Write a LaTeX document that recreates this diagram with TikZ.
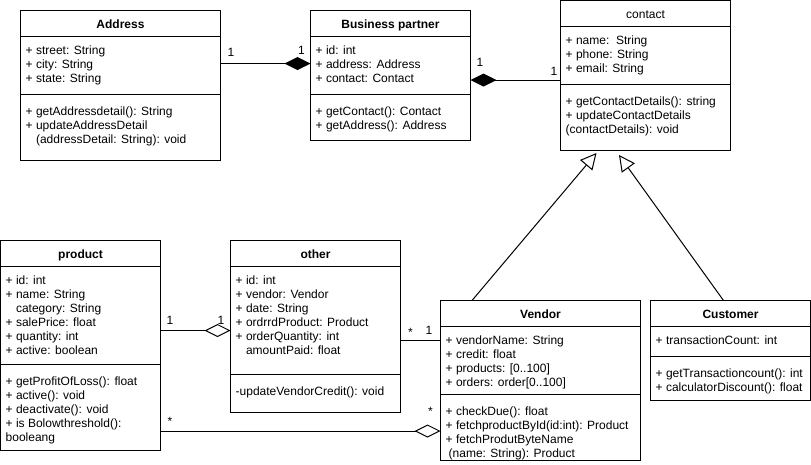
\documentclass[tikz,border=0pt]{standalone}
\usepackage{fontspec}
\setmainfont{Liberation Sans}
\usetikzlibrary{calc,arrows.meta}
\begin{document}
\begin{tikzpicture}[x=1pt,y=-1pt,
  box/.style={draw, line width=1pt, anchor=north west, inner sep=0pt, outer sep=0pt},
  ttl/.style={font=\fontsize{12}{14}\selectfont\bfseries, anchor=base, inner sep=0pt},
  ttlreg/.style={font=\fontsize{12}{14}\selectfont, anchor=base, inner sep=0pt},
  txt/.style={font=\fontsize{12}{14}\selectfont, align=left, anchor=north west, inner sep=0pt},
  lbl/.style={font=\fontsize{12}{14}\selectfont, anchor=base, inner sep=0pt},
  plain/.style={draw, line width=1pt},
  comp/.style={draw, line width=1pt, -{Diamond[length=26pt,width=13pt]}},
  agg/.style={draw, line width=1pt, -{Diamond[open,length=26pt,width=13pt,fill=white]}},
  gen/.style={draw, line width=1pt, -{Triangle[open,length=16pt,width=16pt,fill=white]}}
]
\useasboundingbox (0,0) rectangle (811,464);

% Address
\node[box, minimum width=200pt, minimum height=150pt] (addr) at (20.5,10.5) {};
\node[ttl] (addrT) at ($(addr.north)+(0,17.5)$) {Address};
\draw[plain] ($(addr.north west)+(0,26)$) -- ($(addr.north east)+(0,26)$);
\draw[plain] ($(addr.north west)+(0,84)$) -- ($(addr.north east)+(0,84)$);
\node[txt] (addrA) at ($(addr.north west)+(5,34.2)$) {\strut+ street: String\\+ city: String\\+ state: String};
\node[txt] (addrM) at ($(addr.north west)+(5,95.2)$) {\strut+ getAddressdetail(): String\\+ updateAddressDetail\\\phantom{+ }(addressDetail: String): void};

% Business partner
\node[box, minimum width=160pt, minimum height=130pt] (bp) at (310.5,10.5) {};
\node[ttl] (bpT) at ($(bp.north)+(0,17.5)$) {Business partner};
\draw[plain] ($(bp.north west)+(0,26)$) -- ($(bp.north east)+(0,26)$);
\draw[plain] ($(bp.north west)+(0,84)$) -- ($(bp.north east)+(0,84)$);
\node[txt] (bpA) at ($(bp.north west)+(5,34.2)$) {\strut+ id: int\\+ address: Address\\+ contact: Contact};
\node[txt] (bpM) at ($(bp.north west)+(5,95.2)$) {\strut+ getContact(): Contact\\+ getAddress(): Address};

% contact
\node[box, minimum width=170pt, minimum height=150pt] (contact) at (560.5,0.5) {};
\node[ttlreg] (contactT) at ($(contact.north)+(0,17.5)$) {contact};
\draw[plain] ($(contact.north west)+(0,26)$) -- ($(contact.north east)+(0,26)$);
\draw[plain] ($(contact.north west)+(0,84)$) -- ($(contact.north east)+(0,84)$);
\node[txt] (contactA) at ($(contact.north west)+(5,34.2)$) {\strut+ name:\ \ String\\+ phone: String\\+ email: String};
\node[txt] (contactM) at ($(contact.north west)+(5,95.2)$) {\strut+ getContactDetails(): string\\+ updateContactDetails\\(contactDetails): void};

% product
\node[box, minimum width=160pt, minimum height=210pt] (product) at (0.5,240.5) {};
\node[ttl] (productT) at ($(product.north)+(0,17.5)$) {product};
\draw[plain] ($(product.north west)+(0,26)$) -- ($(product.north east)+(0,26)$);
\draw[plain] ($(product.north west)+(0,124)$) -- ($(product.north east)+(0,124)$);
\node[txt] (productA) at ($(product.north west)+(5,34.2)$) {\strut+ id: int\\+ name: String\\\phantom{+ }category: String\\+ salePrice: float\\+ quantity: int\\+ active: boolean};
\node[txt] (productM) at ($(product.north west)+(5,135.2)$) {\strut+ getProfitOfLoss(): float\\+ active(): void\\+ deactivate(): void\\+ is Bolowthreshold():\\booleang};

% other
\node[box, minimum width=170pt, minimum height=172pt] (other) at (230.5,240.5) {};
\node[ttl] (otherT) at ($(other.north)+(0,17.5)$) {other};
\draw[plain] ($(other.north west)+(0,26)$) -- ($(other.north east)+(0,26)$);
\draw[plain] ($(other.north west)+(0,134)$) -- ($(other.north east)+(0,134)$);
\node[txt] (otherA) at ($(other.north west)+(5,34.2)$) {\strut+ id: int\\+ vendor: Vendor\\+ date: String\\+ ordrrdProduct: Product\\+ orderQuantity: int\\\phantom{+ }amountPaid: float};
\node[txt] (otherM) at ($(other.north west)+(5,145.2)$) {\strut-updateVendorCredit(): void};

% Vendor
\node[box, minimum width=200pt, minimum height=160pt] (vendor) at (440.5,300.5) {};
\node[ttl] (vendorT) at ($(vendor.north)+(0,17.5)$) {Vendor};
\draw[plain] ($(vendor.north west)+(0,26)$) -- ($(vendor.north east)+(0,26)$);
\draw[plain] ($(vendor.north west)+(0,94)$) -- ($(vendor.north east)+(0,94)$);
\node[txt] (vendorA) at ($(vendor.north west)+(5,34.2)$) {\strut+ vendorName: String\\+ credit: float\\+ products: [0..100]\\+ orders: order[0..100]};
\node[txt] (vendorM) at ($(vendor.north west)+(5,105.2)$) {\strut+ checkDue(): float\\+ fetchproductById(id:int): Product\\+ fetchProdutByteName\\\hspace*{3pt}(name: String): Product};

% Customer
\node[box, minimum width=160pt, minimum height=100pt] (customer) at (650.5,300.5) {};
\node[ttl] (customerT) at ($(customer.north)+(0,17.5)$) {Customer};
\draw[plain] ($(customer.north west)+(0,26)$) -- ($(customer.north east)+(0,26)$);
\draw[plain] ($(customer.north west)+(0,56)$) -- ($(customer.north east)+(0,56)$);
\node[txt] (customerA) at ($(customer.north west)+(5,34.2)$) {\strut+ transactionCount: int};
\node[txt] (customerM) at ($(customer.north west)+(5,67.2)$) {\strut+ getTransactioncount(): int\\+ calculatorDiscount(): float};

% connectors
\draw[comp] ($(addr.north east)+(0,53)$) -- ($(bp.north west)+(0,53)$);
\draw[comp] ($(contact.north west)+(0,79.5)$) -- ($(bp.north east)+(0,69.5)$);
\draw[agg] ($(product.north east)+(0,90)$) -- ($(other.north west)+(0,90)$);
\draw[plain] ($(other.north east)+(0,99.5)$) -- ($(vendor.north west)+(0,39.5)$);
\draw[agg] ($(product.north east)+(0,190.5)$) -- ($(vendor.north west)+(0,130.5)$);
\draw[gen] ($(vendor.north west)+(31.5,0)$) -- ($(contact.south west)+(36,2.5)$);
\draw[gen] ($(customer.north west)+(73,0)$) -- ($(contact.south west)+(58.5,4.5)$);

% multiplicities
\node[lbl] (m1) at (231,56) {1};
\node[lbl] (m2) at (301.5,54.5) {1};
\node[lbl] (m3) at (480,66) {1};
\node[lbl] (m4) at (554,75) {1};
\node[lbl] (m5) at (170,324.5) {1};
\node[lbl] (m6) at (221,324.5) {1};
\node[lbl] (m7) at (410.5,336) {*};
\node[lbl] (m8) at (429,334.5) {1};
\node[lbl] (m9) at (170,425) {*};
\node[lbl] (m10) at (430.5,415) {*};
\end{tikzpicture}
\end{document}
